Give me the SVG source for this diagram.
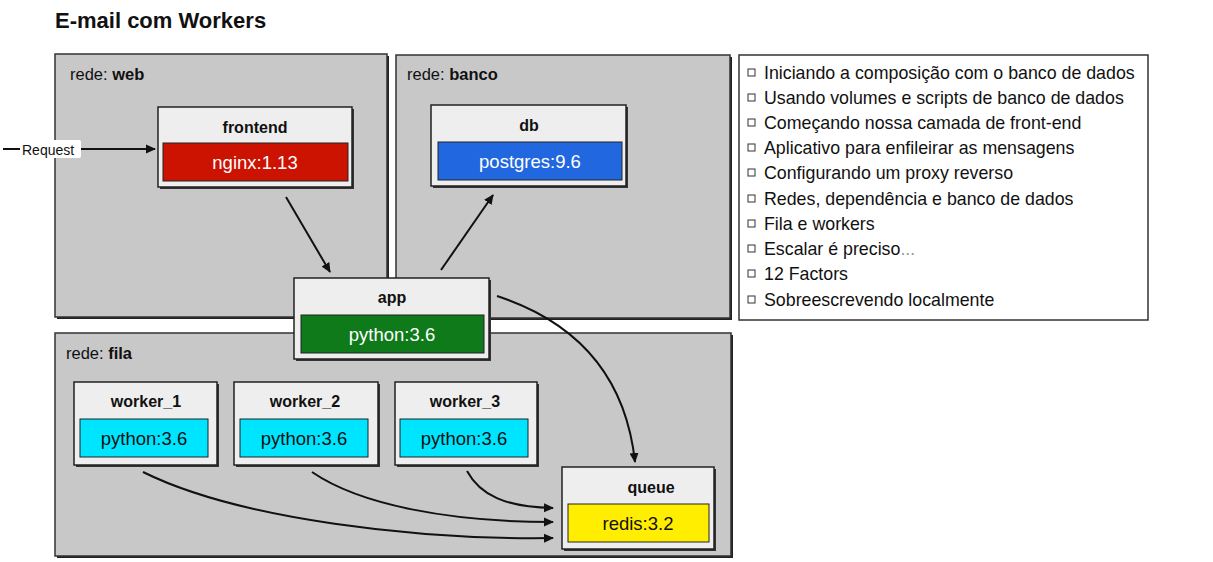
<svg xmlns="http://www.w3.org/2000/svg" width="1213" height="562" viewBox="0 0 1213 562">
<defs>
<marker id="ah" markerWidth="12" markerHeight="12" refX="9" refY="6" orient="auto" markerUnits="userSpaceOnUse">
<path d="M0,1.5 L10,6 L0,10.5 Z" fill="#111"/>
</marker>
<style>
text{font-family:"Liberation Sans",Arial,sans-serif;fill:#111}
.net{fill:#c8c8c8;stroke:#333;stroke-width:1.5}
.netsh{fill:#222}
.node{fill:#eeeeee;stroke:#222;stroke-width:1.5}
.nodesh{fill:#333}
.title{font-size:22px;font-weight:bold}
.lbl{font-size:16.5px}
.nt{font-size:16px;font-weight:bold;text-anchor:middle}
.img{font-size:18.5px;text-anchor:middle;fill:#fff}
.imgd{font-size:18.5px;text-anchor:middle;fill:#111}
.li{font-size:17.8px}
.cb{fill:#fff;stroke:#333;stroke-width:1}
.con{fill:none;stroke:#111;stroke-width:2}
</style>
</defs>
<rect width="1213" height="562" fill="#fff"/>
<text class="title" x="55" y="28">E-mail com Workers</text>

<g id="net-web">
<rect class="netsh" x="57" y="56" width="332" height="263"/>
<rect class="net" x="55" y="54" width="332" height="263"/>
<text class="lbl" x="70" y="80">rede: <tspan font-weight="bold">web</tspan></text>
</g>
<g id="net-banco">
<rect class="netsh" x="398" y="57" width="334" height="263"/>
<rect class="net" x="396" y="55" width="334" height="263"/>
<text class="lbl" x="407" y="80">rede: <tspan font-weight="bold">banco</tspan></text>
</g>
<g id="net-fila">
<rect class="netsh" x="57" y="335" width="676" height="223"/>
<rect class="net" x="55" y="333" width="676" height="223"/>
<text class="lbl" x="66" y="359">rede: <tspan font-weight="bold">fila</tspan></text>
</g>

<g id="list">
<rect x="739" y="55" width="409" height="265" fill="#fff" stroke="#333" stroke-width="1.5"/>
<g>
<rect class="cb" x="748" y="69" width="7" height="7"/>
<text class="li" x="764" y="79">Iniciando a composição com o banco de dados</text>
<rect class="cb" x="748" y="94" width="7" height="7"/>
<text class="li" x="764" y="104">Usando volumes e scripts de banco de dados</text>
<rect class="cb" x="748" y="119" width="7" height="7"/>
<text class="li" x="764" y="129">Começando nossa camada de front-end</text>
<rect class="cb" x="748" y="144" width="7" height="7"/>
<text class="li" x="764" y="154">Aplicativo para enfileirar as mensagens</text>
<rect class="cb" x="748" y="169" width="7" height="7"/>
<text class="li" x="764" y="179">Configurando um proxy reverso</text>
<rect class="cb" x="748" y="195" width="7" height="7"/>
<text class="li" x="764" y="205">Redes, dependência e banco de dados</text>
<rect class="cb" x="748" y="220" width="7" height="7"/>
<text class="li" x="764" y="230">Fila e workers</text>
<rect class="cb" x="748" y="245" width="7" height="7"/>
<text class="li" x="764" y="255">Escalar é preciso<tspan fill="#999">...</tspan></text>
<rect class="cb" x="748" y="270" width="7" height="7"/>
<text class="li" x="764" y="280">12 Factors</text>
<rect class="cb" x="748" y="296" width="7" height="7"/>
<text class="li" x="764" y="306">Sobreescrevendo localmente</text>
</g>
</g>

<g id="connectors">
<line x1="3" y1="149" x2="20" y2="149" stroke="#111" stroke-width="2"/>
<rect x="20" y="140" width="61" height="18" fill="#fff" rx="2"/>
<text x="22" y="155" font-size="14">Request</text>
<line class="con" x1="81" y1="149" x2="155" y2="149" marker-end="url(#ah)"/>
<line class="con" x1="286" y1="197" x2="330" y2="272" marker-end="url(#ah)"/>
<line class="con" x1="441" y1="270" x2="493" y2="195" marker-end="url(#ah)"/>
<path class="con" d="M497,296 C570,320 625,370 635,462" marker-end="url(#ah)"/>
<path class="con" d="M143,472 C240,520 420,540 553,538" marker-end="url(#ah)"/>
<path class="con" d="M312,472 C360,505 450,522 553,522" marker-end="url(#ah)"/>
<path class="con" d="M467,471 C480,495 505,507 553,508" marker-end="url(#ah)"/>
</g>

<g id="frontend">
<rect class="nodesh" x="160" y="109" width="194" height="80"/>
<rect class="node" x="158" y="107" width="194" height="80"/>
<text class="nt" x="255" y="133">frontend</text>
<rect x="163" y="143" width="185" height="38" fill="#cc1200" stroke="#222" stroke-width="1"/>
<text class="img" x="255" y="169">nginx:1.13</text>
</g>

<g id="db">
<rect class="nodesh" x="433" y="107" width="195" height="81"/>
<rect class="node" x="431" y="105" width="195" height="81"/>
<text class="nt" x="529" y="131">db</text>
<rect x="438" y="142" width="184" height="38" fill="#2168e0" stroke="#222" stroke-width="1"/>
<text class="img" x="530" y="168">postgres:9.6</text>
</g>

<g id="app">
<rect class="nodesh" x="296" y="280" width="195" height="81"/>
<rect class="node" x="294" y="278" width="195" height="81"/>
<text class="nt" x="392" y="303">app</text>
<rect x="301" y="315" width="183" height="38" fill="#0f7a1a" stroke="#222" stroke-width="1"/>
<text class="img" x="392" y="341">python:3.6</text>
</g>

<g id="worker_1">
<rect class="nodesh" x="76" y="384" width="143" height="83"/>
<rect class="node" x="74" y="382" width="143" height="83"/>
<text class="nt" x="146" y="407">worker_1</text>
<rect x="80" y="419" width="128" height="38" fill="#00e5ff" stroke="#222" stroke-width="1"/>
<text class="imgd" x="144" y="445">python:3.6</text>
</g>

<g id="worker_2">
<rect class="nodesh" x="236" y="384" width="144" height="83"/>
<rect class="node" x="234" y="382" width="144" height="83"/>
<text class="nt" x="305" y="407">worker_2</text>
<rect x="240" y="419" width="128" height="38" fill="#00e5ff" stroke="#222" stroke-width="1"/>
<text class="imgd" x="304" y="445">python:3.6</text>
</g>

<g id="worker_3">
<rect class="nodesh" x="397" y="384" width="142" height="83"/>
<rect class="node" x="395" y="382" width="142" height="83"/>
<text class="nt" x="465" y="407">worker_3</text>
<rect x="400" y="419" width="128" height="38" fill="#00e5ff" stroke="#222" stroke-width="1"/>
<text class="imgd" x="464" y="445">python:3.6</text>
</g>

<g id="queue">
<rect class="nodesh" x="564" y="469" width="152" height="82"/>
<rect class="node" x="562" y="467" width="152" height="82"/>
<text class="nt" x="651" y="493">queue</text>
<rect x="568" y="504" width="141" height="38" fill="#ffee00" stroke="#222" stroke-width="1"/>
<text class="imgd" x="638" y="530">redis:3.2</text>
</g>
</svg>
